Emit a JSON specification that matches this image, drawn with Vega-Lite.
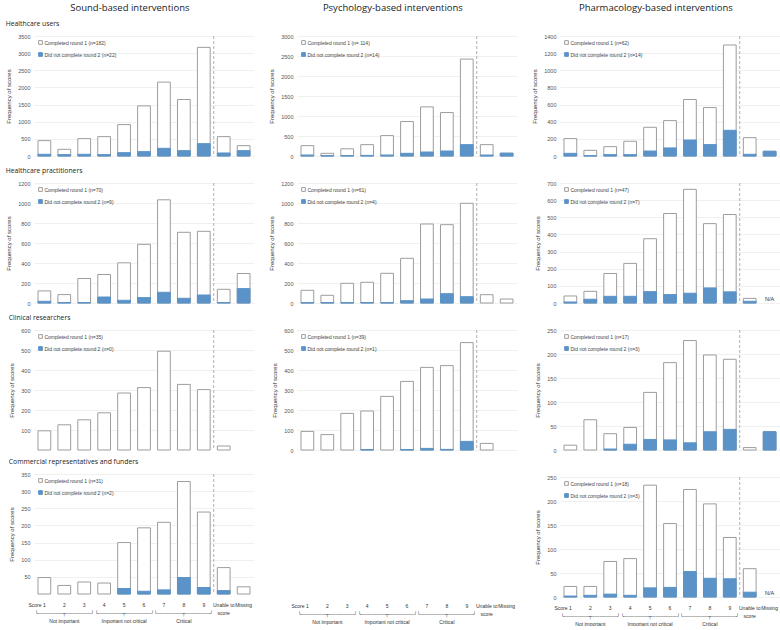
{
"$schema": "https://vega.github.io/schema/vega-lite/v6.json",
"padding": {"left": 5, "top": 2, "right": 0, "bottom": 0},
"background": "white",
"datasets": {"bars": [
{"p":"SHU","s":"1","c":448,"d":50},{"p":"SHU","s":"2","c":195,"d":40},{"p":"SHU","s":"3","c":507,"d":50},{"p":"SHU","s":"4","c":565,"d":40},{"p":"SHU","s":"5","c":916,"d":97},{"p":"SHU","s":"6","c":1462,"d":127},{"p":"SHU","s":"7","c":2155,"d":224},{"p":"SHU","s":"8","c":1648,"d":156},{"p":"SHU","s":"9","c":3168,"d":360},{"p":"SHU","s":"Unable to score","c":565,"d":88},{"p":"SHU","s":"Missing","c":302,"d":156},
{"p":"PSY_HU","s":"1","c":259,"d":25},{"p":"PSY_HU","s":"2","c":67,"d":8},{"p":"PSY_HU","s":"3","c":180,"d":10},{"p":"PSY_HU","s":"4","c":284,"d":15},{"p":"PSY_HU","s":"5","c":510,"d":25},{"p":"PSY_HU","s":"6","c":861,"d":67},{"p":"PSY_HU","s":"7","c":1228,"d":100},{"p":"PSY_HU","s":"8","c":1086,"d":125},{"p":"PSY_HU","s":"9","c":2423,"d":284},{"p":"PSY_HU","s":"Unable to score","c":284,"d":25},{"p":"PSY_HU","s":"Missing","c":70,"d":70},
{"p":"PHA_HU","s":"1","c":203,"d":31},{"p":"PHA_HU","s":"2","c":66,"d":3},{"p":"PHA_HU","s":"3","c":109,"d":16},{"p":"PHA_HU","s":"4","c":172,"d":16},{"p":"PHA_HU","s":"5","c":335,"d":58},{"p":"PHA_HU","s":"6","c":413,"d":94},{"p":"PHA_HU","s":"7","c":659,"d":187},{"p":"PHA_HU","s":"8","c":565,"d":133},{"p":"PHA_HU","s":"9","c":1295,"d":300},{"p":"PHA_HU","s":"Unable to score","c":214,"d":20},{"p":"PHA_HU","s":"Missing","c":55,"d":55},
{"p":"SHP","s":"1","c":121,"d":17},{"p":"SHP","s":"2","c":84,"d":5},{"p":"SHP","s":"3","c":245,"d":5},{"p":"SHP","s":"4","c":285,"d":60},{"p":"SHP","s":"5","c":402,"d":27},{"p":"SHP","s":"6","c":587,"d":54},{"p":"SHP","s":"7","c":1032,"d":107},{"p":"SHP","s":"8","c":707,"d":47},{"p":"SHP","s":"9","c":717,"d":80},{"p":"SHP","s":"Unable to score","c":137,"d":5},{"p":"SHP","s":"Missing","c":295,"d":144},
{"p":"PSY_HP","s":"1","c":127,"d":3},{"p":"PSY_HP","s":"2","c":77,"d":3},{"p":"PSY_HP","s":"3","c":197,"d":3},{"p":"PSY_HP","s":"4","c":207,"d":5},{"p":"PSY_HP","s":"5","c":297,"d":3},{"p":"PSY_HP","s":"6","c":447,"d":23},{"p":"PSY_HP","s":"7","c":790,"d":40},{"p":"PSY_HP","s":"8","c":783,"d":93},{"p":"PSY_HP","s":"9","c":997,"d":63},{"p":"PSY_HP","s":"Unable to score","c":83,"d":null},{"p":"PSY_HP","s":"Missing","c":40,"d":null},
{"p":"PHA_HP","s":"1","c":41,"d":6},{"p":"PHA_HP","s":"2","c":68,"d":22},{"p":"PHA_HP","s":"3","c":172,"d":39},{"p":"PHA_HP","s":"4","c":231,"d":39},{"p":"PHA_HP","s":"5","c":375,"d":66},{"p":"PHA_HP","s":"6","c":522,"d":49},{"p":"PHA_HP","s":"7","c":663,"d":57},{"p":"PHA_HP","s":"8","c":463,"d":88},{"p":"PHA_HP","s":"9","c":516,"d":65},{"p":"PHA_HP","s":"Unable to score","c":27,"d":10},{"p":"PHA_HP","s":"Missing","c":null,"d":null},
{"p":"SCR","s":"1","c":96,"d":null},{"p":"SCR","s":"2","c":126,"d":null},{"p":"SCR","s":"3","c":151,"d":null},{"p":"SCR","s":"4","c":186,"d":null},{"p":"SCR","s":"5","c":285,"d":null},{"p":"SCR","s":"6","c":312,"d":null},{"p":"SCR","s":"7","c":494,"d":null},{"p":"SCR","s":"8","c":328,"d":null},{"p":"SCR","s":"9","c":302,"d":null},{"p":"SCR","s":"Unable to score","c":20,"d":null},{"p":"SCR","s":"Missing","c":null,"d":null},
{"p":"PSY_CR","s":"1","c":93,"d":null},{"p":"PSY_CR","s":"2","c":77,"d":null},{"p":"PSY_CR","s":"3","c":183,"d":null},{"p":"PSY_CR","s":"4","c":195,"d":2},{"p":"PSY_CR","s":"5","c":268,"d":null},{"p":"PSY_CR","s":"6","c":343,"d":2},{"p":"PSY_CR","s":"7","c":413,"d":8},{"p":"PSY_CR","s":"8","c":422,"d":3},{"p":"PSY_CR","s":"9","c":537,"d":43},{"p":"PSY_CR","s":"Unable to score","c":33,"d":null},{"p":"PSY_CR","s":"Missing","c":null,"d":null},
{"p":"PHA_CR","s":"1","c":10,"d":null},{"p":"PHA_CR","s":"2","c":63,"d":null},{"p":"PHA_CR","s":"3","c":34,"d":2},{"p":"PHA_CR","s":"4","c":47,"d":12},{"p":"PHA_CR","s":"5","c":120,"d":22},{"p":"PHA_CR","s":"6","c":182,"d":21},{"p":"PHA_CR","s":"7","c":228,"d":15},{"p":"PHA_CR","s":"8","c":198,"d":38},{"p":"PHA_CR","s":"9","c":189,"d":43},{"p":"PHA_CR","s":"Unable to score","c":5,"d":null},{"p":"PHA_CR","s":"Missing","c":38,"d":38},
{"p":"SCRF","s":"1","c":48,"d":null},{"p":"SCRF","s":"2","c":25,"d":null},{"p":"SCRF","s":"3","c":35,"d":null},{"p":"SCRF","s":"4","c":32,"d":null},{"p":"SCRF","s":"5","c":150,"d":16},{"p":"SCRF","s":"6","c":193,"d":8},{"p":"SCRF","s":"7","c":209,"d":12},{"p":"SCRF","s":"8","c":328,"d":48},{"p":"SCRF","s":"9","c":239,"d":19},{"p":"SCRF","s":"Unable to score","c":77,"d":10},{"p":"SCRF","s":"Missing","c":21,"d":null},
{"p":"PHA_CRF","s":"1","c":22,"d":2},{"p":"PHA_CRF","s":"2","c":22,"d":3.5},{"p":"PHA_CRF","s":"3","c":74,"d":6},{"p":"PHA_CRF","s":"4","c":80,"d":3.5},{"p":"PHA_CRF","s":"5","c":233,"d":19},{"p":"PHA_CRF","s":"6","c":153,"d":20},{"p":"PHA_CRF","s":"7","c":224,"d":53},{"p":"PHA_CRF","s":"8","c":194,"d":39},{"p":"PHA_CRF","s":"9","c":124,"d":38},{"p":"PHA_CRF","s":"Unable to score","c":59,"d":10},{"p":"PHA_CRF","s":"Missing","c":null,"d":null}
]},
"config": {
 "view": {"stroke": null},
 "font": "Liberation Sans",
 "title": {"font": "Open Sans", "fontSize": 6.8, "fontWeight": "normal", "anchor": "start", "frame": "bounds", "offset": 6, "color": "#222"},
 "axis": {"domain": false, "ticks": false, "labelFont": "Liberation Sans", "labelFontSize": 5.5, "labelColor": "#555", "labelPadding": 4, "gridColor": "#ececec", "gridWidth": 0.8, "titleFont": "Liberation Sans", "titleFontSize": 6, "titleFontWeight": "normal", "titleColor": "#333", "titlePadding": 6},
 "axisQuantitative": {"format": "d"},
 "legend": {"orient": "top-left", "offset": 4, "padding": 0, "symbolType": "square", "symbolSize": 14, "symbolStrokeWidth": 1, "labelFontSize": 5, "labelFont": "Liberation Sans", "labelColor": "#444", "rowPadding": 3, "labelOffset": 1.5},
 "bar": {"strokeWidth": 1}
},
"spacing": 14,
"resolve": {"scale": {"color": "independent", "stroke": "independent"}},
"hconcat": [
{
 "title": {"text": "Sound-based interventions", "fontSize": 9.5, "anchor": "middle", "offset": 9},
 "spacing": 8,
 "resolve": {"scale": {"color": "independent", "stroke": "independent"}},
 "vconcat": [
 {"title": "Healthcare users", "width": 220, "height": 120, "layer": [
  {"data": {"name": "bars"}, "transform": [{"filter": "datum.p == 'SHU'"}, {"fold": ["c", "d"], "as": ["t", "v"]}],
   "mark": {"type": "bar"},
   "encoding": {
    "x": {"field": "s", "type": "nominal", "scale": {"domain": ["1","2","3","4","5","6","7","8","9","Unable to score","Missing"], "paddingInner": 0.36, "paddingOuter": 0.2}, "axis": null},
    "y": {"field": "v", "type": "quantitative", "stack": null, "scale": {"domain": [0, 3500], "nice": false}, "axis": {"values": [0,500,1000,1500,2000,2500,3000,3500], "title": "Frequency of scores"}},
    "color": {"field": "t", "type": "nominal", "scale": {"domain": ["c","d"], "range": ["#ffffff","#5b93c8"]}, "legend": {"title": null, "labelExpr": "datum.label == 'c' ? 'Completed round 1 (n=182)' : 'Did not complete round 2 (n=22)'"}},
    "stroke": {"field": "t", "type": "nominal", "scale": {"domain": ["c","d"], "range": ["#9d9d9d","#5b93c8"]}, "legend": {"title": null, "labelExpr": "datum.label == 'c' ? 'Completed round 1 (n=182)' : 'Did not complete round 2 (n=22)'"}}
   }},
  {"data": {"values": [{}]}, "mark": {"type": "rule", "strokeDash": [3, 2], "color": "#b0b0b0", "strokeWidth": 1},
   "encoding": {"x": {"datum": "9", "bandPosition": 1.28, "scale": {"domain": ["1","2","3","4","5","6","7","8","9","Unable to score","Missing"], "paddingInner": 0.36, "paddingOuter": 0.2}, "axis": null}}}
 ]},
 {"title": "Healthcare practitioners", "width": 220, "height": 120, "layer": [
  {"data": {"name": "bars"}, "transform": [{"filter": "datum.p == 'SHP'"}, {"fold": ["c", "d"], "as": ["t", "v"]}],
   "mark": {"type": "bar"},
   "encoding": {
    "x": {"field": "s", "type": "nominal", "scale": {"domain": ["1","2","3","4","5","6","7","8","9","Unable to score","Missing"], "paddingInner": 0.36, "paddingOuter": 0.2}, "axis": null},
    "y": {"field": "v", "type": "quantitative", "stack": null, "scale": {"domain": [0, 1200], "nice": false}, "axis": {"values": [0,200,400,600,800,1000,1200], "title": "Frequency of scores"}},
    "color": {"field": "t", "type": "nominal", "scale": {"domain": ["c","d"], "range": ["#ffffff","#5b93c8"]}, "legend": {"title": null, "labelExpr": "datum.label == 'c' ? 'Completed round 1 (n=70)' : 'Did not complete round 2 (n=9)'"}},
    "stroke": {"field": "t", "type": "nominal", "scale": {"domain": ["c","d"], "range": ["#9d9d9d","#5b93c8"]}, "legend": {"title": null, "labelExpr": "datum.label == 'c' ? 'Completed round 1 (n=70)' : 'Did not complete round 2 (n=9)'"}}
   }},
  {"data": {"values": [{}]}, "mark": {"type": "rule", "strokeDash": [3, 2], "color": "#b0b0b0", "strokeWidth": 1},
   "encoding": {"x": {"datum": "9", "bandPosition": 1.28, "scale": {"domain": ["1","2","3","4","5","6","7","8","9","Unable to score","Missing"], "paddingInner": 0.36, "paddingOuter": 0.2}, "axis": null}}}
 ]},
 {"title": "Clinical researchers", "width": 220, "height": 120, "layer": [
  {"data": {"name": "bars"}, "transform": [{"filter": "datum.p == 'SCR'"}, {"fold": ["c", "d"], "as": ["t", "v"]}],
   "mark": {"type": "bar"},
   "encoding": {
    "x": {"field": "s", "type": "nominal", "scale": {"domain": ["1","2","3","4","5","6","7","8","9","Unable to score","Missing"], "paddingInner": 0.36, "paddingOuter": 0.2}, "axis": null},
    "y": {"field": "v", "type": "quantitative", "stack": null, "scale": {"domain": [0, 600], "nice": false}, "axis": {"values": [100,200,300,400,500,600], "title": "Frequency of scores"}},
    "color": {"field": "t", "type": "nominal", "scale": {"domain": ["c","d"], "range": ["#ffffff","#5b93c8"]}, "legend": {"title": null, "labelExpr": "datum.label == 'c' ? 'Completed round 1 (n=35)' : 'Did not complete round 2 (n=0)'"}},
    "stroke": {"field": "t", "type": "nominal", "scale": {"domain": ["c","d"], "range": ["#9d9d9d","#5b93c8"]}, "legend": {"title": null, "labelExpr": "datum.label == 'c' ? 'Completed round 1 (n=35)' : 'Did not complete round 2 (n=0)'"}}
   }},
  {"data": {"values": [{}]}, "mark": {"type": "rule", "strokeDash": [3, 2], "color": "#b0b0b0", "strokeWidth": 1},
   "encoding": {"x": {"datum": "9", "bandPosition": 1.28, "scale": {"domain": ["1","2","3","4","5","6","7","8","9","Unable to score","Missing"], "paddingInner": 0.36, "paddingOuter": 0.2}, "axis": null}}}
 ]},
 {"title": "Commercial representatives and funders", "width": 220, "height": 120, "layer": [
  {"data": {"name": "bars"}, "transform": [{"filter": "datum.p == 'SCRF'"}, {"fold": ["c", "d"], "as": ["t", "v"]}],
   "mark": {"type": "bar"},
   "encoding": {
    "x": {"field": "s", "type": "nominal", "scale": {"domain": ["1","2","3","4","5","6","7","8","9","Unable to score","Missing"], "paddingInner": 0.36, "paddingOuter": 0.2},
      "axis": {"title": "Score", "titleX": 7, "titleY": 8, "titleAlign": "right", "titleBaseline": "top", "titleFont": "Liberation Sans", "titleFontSize": 5, "titlePadding": 0, "labelAngle": 0, "labelFont": "Liberation Sans", "labelFontSize": 5, "labelColor": "#333", "labelLineHeight": 8, "labelPadding": 8, "labelOverlap": false, "labelBound": false, "grid": false,
        "labelExpr": "datum.value == '2' ? ['2', '╰───────┬───────╯', 'Not important'] : datum.value == '5' ? ['5', '╰───────┬───────╯', 'Important not critical'] : datum.value == '8' ? ['8', '╰───────┬───────╯', 'Critical'] : datum.value == 'Unable to score' ? ['Unable to', 'score'] : datum.label"}},
    "y": {"field": "v", "type": "quantitative", "stack": null, "scale": {"domain": [0, 350], "nice": false}, "axis": {"values": [50,100,150,200,250,300,350], "title": "Frequency of scores"}},
    "color": {"field": "t", "type": "nominal", "scale": {"domain": ["c","d"], "range": ["#ffffff","#5b93c8"]}, "legend": {"title": null, "labelExpr": "datum.label == 'c' ? 'Completed round 1 (n=31)' : 'Did not complete round 2 (n=2)'"}},
    "stroke": {"field": "t", "type": "nominal", "scale": {"domain": ["c","d"], "range": ["#9d9d9d","#5b93c8"]}, "legend": {"title": null, "labelExpr": "datum.label == 'c' ? 'Completed round 1 (n=31)' : 'Did not complete round 2 (n=2)'"}}
   }},
  {"data": {"values": [{}]}, "mark": {"type": "rule", "strokeDash": [3, 2], "color": "#b0b0b0", "strokeWidth": 1},
   "encoding": {"x": {"datum": "9", "bandPosition": 1.28, "scale": {"domain": ["1","2","3","4","5","6","7","8","9","Unable to score","Missing"], "paddingInner": 0.36, "paddingOuter": 0.2},
      "axis": {"title": "Score", "titleX": 7, "titleY": 8, "titleAlign": "right", "titleBaseline": "top", "titleFont": "Liberation Sans", "titleFontSize": 5, "titlePadding": 0, "labelAngle": 0, "labelFont": "Liberation Sans", "labelFontSize": 5, "labelColor": "#333", "labelLineHeight": 8, "labelPadding": 8, "labelOverlap": false, "labelBound": false, "grid": false,
        "labelExpr": "datum.value == '2' ? ['2', '╰───────┬───────╯', 'Not important'] : datum.value == '5' ? ['5', '╰───────┬───────╯', 'Important not critical'] : datum.value == '8' ? ['8', '╰───────┬───────╯', 'Critical'] : datum.value == 'Unable to score' ? ['Unable to', 'score'] : datum.label"}}}}
 ]}
 ]
},
{
 "title": {"text": "Psychology-based interventions", "fontSize": 9.5, "anchor": "middle", "offset": 9},
 "spacing": 8,
 "resolve": {"scale": {"color": "independent", "stroke": "independent"}},
 "vconcat": [
 {"title": " ", "width": 220, "height": 120, "layer": [
  {"data": {"name": "bars"}, "transform": [{"filter": "datum.p == 'PSY_HU'"}, {"fold": ["c", "d"], "as": ["t", "v"]}],
   "mark": {"type": "bar"},
   "encoding": {
    "x": {"field": "s", "type": "nominal", "scale": {"domain": ["1","2","3","4","5","6","7","8","9","Unable to score","Missing"], "paddingInner": 0.36, "paddingOuter": 0.2}, "axis": null},
    "y": {"field": "v", "type": "quantitative", "stack": null, "scale": {"domain": [0, 3000], "nice": false}, "axis": {"values": [0,500,1000,1500,2000,2500,3000], "title": "Frequency of scores"}},
    "color": {"field": "t", "type": "nominal", "scale": {"domain": ["c","d"], "range": ["#ffffff","#5b93c8"]}, "legend": {"title": null, "labelExpr": "datum.label == 'c' ? 'Completed round 1 (n= 114)' : 'Did not complete round 2 (n=14)'"}},
    "stroke": {"field": "t", "type": "nominal", "scale": {"domain": ["c","d"], "range": ["#9d9d9d","#5b93c8"]}, "legend": {"title": null, "labelExpr": "datum.label == 'c' ? 'Completed round 1 (n= 114)' : 'Did not complete round 2 (n=14)'"}}
   }},
  {"data": {"values": [{}]}, "mark": {"type": "rule", "strokeDash": [3, 2], "color": "#b0b0b0", "strokeWidth": 1},
   "encoding": {"x": {"datum": "9", "bandPosition": 1.28, "scale": {"domain": ["1","2","3","4","5","6","7","8","9","Unable to score","Missing"], "paddingInner": 0.36, "paddingOuter": 0.2}, "axis": null}}}
 ]},
 {"title": " ", "width": 220, "height": 120, "layer": [
  {"data": {"name": "bars"}, "transform": [{"filter": "datum.p == 'PSY_HP'"}, {"fold": ["c", "d"], "as": ["t", "v"]}],
   "mark": {"type": "bar"},
   "encoding": {
    "x": {"field": "s", "type": "nominal", "scale": {"domain": ["1","2","3","4","5","6","7","8","9","Unable to score","Missing"], "paddingInner": 0.36, "paddingOuter": 0.2}, "axis": null},
    "y": {"field": "v", "type": "quantitative", "stack": null, "scale": {"domain": [0, 1200], "nice": false}, "axis": {"values": [0,200,400,600,800,1000,1200], "title": "Frequency of scores"}},
    "color": {"field": "t", "type": "nominal", "scale": {"domain": ["c","d"], "range": ["#ffffff","#5b93c8"]}, "legend": {"title": null, "labelExpr": "datum.label == 'c' ? 'Completed round 1 (n=61)' : 'Did not complete round 2 (n=4)'"}},
    "stroke": {"field": "t", "type": "nominal", "scale": {"domain": ["c","d"], "range": ["#9d9d9d","#5b93c8"]}, "legend": {"title": null, "labelExpr": "datum.label == 'c' ? 'Completed round 1 (n=61)' : 'Did not complete round 2 (n=4)'"}}
   }},
  {"data": {"values": [{}]}, "mark": {"type": "rule", "strokeDash": [3, 2], "color": "#b0b0b0", "strokeWidth": 1},
   "encoding": {"x": {"datum": "9", "bandPosition": 1.28, "scale": {"domain": ["1","2","3","4","5","6","7","8","9","Unable to score","Missing"], "paddingInner": 0.36, "paddingOuter": 0.2}, "axis": null}}}
 ]},
 {"title": " ", "width": 220, "height": 120, "layer": [
  {"data": {"name": "bars"}, "transform": [{"filter": "datum.p == 'PSY_CR'"}, {"fold": ["c", "d"], "as": ["t", "v"]}],
   "mark": {"type": "bar"},
   "encoding": {
    "x": {"field": "s", "type": "nominal", "scale": {"domain": ["1","2","3","4","5","6","7","8","9","Unable to score","Missing"], "paddingInner": 0.36, "paddingOuter": 0.2}, "axis": null},
    "y": {"field": "v", "type": "quantitative", "stack": null, "scale": {"domain": [0, 600], "nice": false}, "axis": {"values": [0,100,200,300,400,500,600], "title": "Frequency of scores"}},
    "color": {"field": "t", "type": "nominal", "scale": {"domain": ["c","d"], "range": ["#ffffff","#5b93c8"]}, "legend": {"title": null, "labelExpr": "datum.label == 'c' ? 'Completed round 1 (n=39)' : 'Did not complete round 2 (n=1)'"}},
    "stroke": {"field": "t", "type": "nominal", "scale": {"domain": ["c","d"], "range": ["#9d9d9d","#5b93c8"]}, "legend": {"title": null, "labelExpr": "datum.label == 'c' ? 'Completed round 1 (n=39)' : 'Did not complete round 2 (n=1)'"}}
   }},
  {"data": {"values": [{}]}, "mark": {"type": "rule", "strokeDash": [3, 2], "color": "#b0b0b0", "strokeWidth": 1},
   "encoding": {"x": {"datum": "9", "bandPosition": 1.28, "scale": {"domain": ["1","2","3","4","5","6","7","8","9","Unable to score","Missing"], "paddingInner": 0.36, "paddingOuter": 0.2}, "axis": null}}}
 ]},
 {"title": " ", "width": 220, "height": 120,
  "data": {"name": "bars"}, "transform": [{"filter": "datum.p == 'PSY_CRF'"}],
  "mark": {"type": "bar"},
  "encoding": {
    "x": {"field": "s", "type": "nominal", "scale": {"domain": ["1","2","3","4","5","6","7","8","9","Unable to score","Missing"], "paddingInner": 0.36, "paddingOuter": 0.2},
      "axis": {"title": "Score", "titleX": 7, "titleY": 8, "titleAlign": "right", "titleBaseline": "top", "titleFont": "Liberation Sans", "titleFontSize": 5, "titlePadding": 0, "labelAngle": 0, "labelFont": "Liberation Sans", "labelFontSize": 5, "labelColor": "#333", "labelLineHeight": 8, "labelPadding": 8, "labelOverlap": false, "labelBound": false, "grid": false,
        "labelExpr": "datum.value == '2' ? ['2', '╰───────┬───────╯', 'Not important'] : datum.value == '5' ? ['5', '╰───────┬───────╯', 'Important not critical'] : datum.value == '8' ? ['8', '╰───────┬───────╯', 'Critical'] : datum.value == 'Unable to score' ? ['Unable to', 'score'] : datum.label"}},
    "y": {"field": "c", "type": "quantitative", "scale": {"domain": [0, 100]}, "axis": null}
  }}
 ]
},
{
 "title": {"text": "Pharmacology-based interventions", "fontSize": 9.5, "anchor": "middle", "offset": 9},
 "spacing": 8,
 "resolve": {"scale": {"color": "independent", "stroke": "independent"}},
 "vconcat": [
 {"title": " ", "width": 220, "height": 120, "layer": [
  {"data": {"name": "bars"}, "transform": [{"filter": "datum.p == 'PHA_HU'"}, {"fold": ["c", "d"], "as": ["t", "v"]}],
   "mark": {"type": "bar"},
   "encoding": {
    "x": {"field": "s", "type": "nominal", "scale": {"domain": ["1","2","3","4","5","6","7","8","9","Unable to score","Missing"], "paddingInner": 0.36, "paddingOuter": 0.2}, "axis": null},
    "y": {"field": "v", "type": "quantitative", "stack": null, "scale": {"domain": [0, 1400], "nice": false}, "axis": {"values": [0,200,400,600,800,1000,1200,1400], "title": "Frequency of scores"}},
    "color": {"field": "t", "type": "nominal", "scale": {"domain": ["c","d"], "range": ["#ffffff","#5b93c8"]}, "legend": {"title": null, "labelExpr": "datum.label == 'c' ? 'Completed round 1 (n=62)' : 'Did not complete round 2 (n=14)'"}},
    "stroke": {"field": "t", "type": "nominal", "scale": {"domain": ["c","d"], "range": ["#9d9d9d","#5b93c8"]}, "legend": {"title": null, "labelExpr": "datum.label == 'c' ? 'Completed round 1 (n=62)' : 'Did not complete round 2 (n=14)'"}}
   }},
  {"data": {"values": [{}]}, "mark": {"type": "rule", "strokeDash": [3, 2], "color": "#b0b0b0", "strokeWidth": 1},
   "encoding": {"x": {"datum": "9", "bandPosition": 1.28, "scale": {"domain": ["1","2","3","4","5","6","7","8","9","Unable to score","Missing"], "paddingInner": 0.36, "paddingOuter": 0.2}, "axis": null}}}
 ]},
 {"title": " ", "width": 220, "height": 120, "layer": [
  {"data": {"name": "bars"}, "transform": [{"filter": "datum.p == 'PHA_HP'"}, {"fold": ["c", "d"], "as": ["t", "v"]}],
   "mark": {"type": "bar"},
   "encoding": {
    "x": {"field": "s", "type": "nominal", "scale": {"domain": ["1","2","3","4","5","6","7","8","9","Unable to score","Missing"], "paddingInner": 0.36, "paddingOuter": 0.2}, "axis": null},
    "y": {"field": "v", "type": "quantitative", "stack": null, "scale": {"domain": [0, 700], "nice": false}, "axis": {"values": [0,100,200,300,400,500,600,700], "title": "Frequency of scores"}},
    "color": {"field": "t", "type": "nominal", "scale": {"domain": ["c","d"], "range": ["#ffffff","#5b93c8"]}, "legend": {"title": null, "labelExpr": "datum.label == 'c' ? 'Completed round 1 (n=47)' : 'Did not complete round 2 (n=7)'"}},
    "stroke": {"field": "t", "type": "nominal", "scale": {"domain": ["c","d"], "range": ["#9d9d9d","#5b93c8"]}, "legend": {"title": null, "labelExpr": "datum.label == 'c' ? 'Completed round 1 (n=47)' : 'Did not complete round 2 (n=7)'"}}
   }},
  {"data": {"values": [{}]}, "mark": {"type": "rule", "strokeDash": [3, 2], "color": "#b0b0b0", "strokeWidth": 1},
   "encoding": {"x": {"datum": "9", "bandPosition": 1.28, "scale": {"domain": ["1","2","3","4","5","6","7","8","9","Unable to score","Missing"], "paddingInner": 0.36, "paddingOuter": 0.2}, "axis": null}}},
  {"data": {"values": [{"s": "Missing", "note": "N/A"}]}, "mark": {"type": "text", "fontSize": 5.5, "dy": -4, "color": "#333"},
   "encoding": {"x": {"field": "s", "type": "nominal", "scale": {"domain": ["1","2","3","4","5","6","7","8","9","Unable to score","Missing"], "paddingInner": 0.36, "paddingOuter": 0.2}, "axis": null},
    "y": {"datum": 0, "type": "quantitative", "scale": {"domain": [0, 700], "nice": false}, "axis": {"values": [0,100,200,300,400,500,600,700], "title": "Frequency of scores"}},
    "text": {"field": "note"}}}
 ]},
 {"title": " ", "width": 220, "height": 120, "layer": [
  {"data": {"name": "bars"}, "transform": [{"filter": "datum.p == 'PHA_CR'"}, {"fold": ["c", "d"], "as": ["t", "v"]}],
   "mark": {"type": "bar"},
   "encoding": {
    "x": {"field": "s", "type": "nominal", "scale": {"domain": ["1","2","3","4","5","6","7","8","9","Unable to score","Missing"], "paddingInner": 0.36, "paddingOuter": 0.2}, "axis": null},
    "y": {"field": "v", "type": "quantitative", "stack": null, "scale": {"domain": [0, 250], "nice": false}, "axis": {"values": [0,50,100,150,200,250], "title": "Frequency of scores"}},
    "color": {"field": "t", "type": "nominal", "scale": {"domain": ["c","d"], "range": ["#ffffff","#5b93c8"]}, "legend": {"title": null, "labelExpr": "datum.label == 'c' ? 'Completed round 1 (n=17)' : 'Did not complete round 2 (n=3)'"}},
    "stroke": {"field": "t", "type": "nominal", "scale": {"domain": ["c","d"], "range": ["#9d9d9d","#5b93c8"]}, "legend": {"title": null, "labelExpr": "datum.label == 'c' ? 'Completed round 1 (n=17)' : 'Did not complete round 2 (n=3)'"}}
   }},
  {"data": {"values": [{}]}, "mark": {"type": "rule", "strokeDash": [3, 2], "color": "#b0b0b0", "strokeWidth": 1},
   "encoding": {"x": {"datum": "9", "bandPosition": 1.28, "scale": {"domain": ["1","2","3","4","5","6","7","8","9","Unable to score","Missing"], "paddingInner": 0.36, "paddingOuter": 0.2}, "axis": null}}}
 ]},
 {"title": " ", "width": 220, "height": 120, "layer": [
  {"data": {"name": "bars"}, "transform": [{"filter": "datum.p == 'PHA_CRF'"}, {"fold": ["c", "d"], "as": ["t", "v"]}],
   "mark": {"type": "bar"},
   "encoding": {
    "x": {"field": "s", "type": "nominal", "scale": {"domain": ["1","2","3","4","5","6","7","8","9","Unable to score","Missing"], "paddingInner": 0.36, "paddingOuter": 0.2},
      "axis": {"title": "Score", "titleX": 7, "titleY": 8, "titleAlign": "right", "titleBaseline": "top", "titleFont": "Liberation Sans", "titleFontSize": 5, "titlePadding": 0, "labelAngle": 0, "labelFont": "Liberation Sans", "labelFontSize": 5, "labelColor": "#333", "labelLineHeight": 8, "labelPadding": 8, "labelOverlap": false, "labelBound": false, "grid": false,
        "labelExpr": "datum.value == '2' ? ['2', '╰───────┬───────╯', 'Not important'] : datum.value == '5' ? ['5', '╰───────┬───────╯', 'Important not critical'] : datum.value == '8' ? ['8', '╰───────┬───────╯', 'Critical'] : datum.value == 'Unable to score' ? ['Unable to', 'score'] : datum.label"}},
    "y": {"field": "v", "type": "quantitative", "stack": null, "scale": {"domain": [0, 250], "nice": false}, "axis": {"values": [0,50,100,150,200,250], "title": "Frequency of scores"}},
    "color": {"field": "t", "type": "nominal", "scale": {"domain": ["c","d"], "range": ["#ffffff","#5b93c8"]}, "legend": {"title": null, "labelExpr": "datum.label == 'c' ? 'Completed round 1 (n=18)' : 'Did not complete round 2 (n=3)'"}},
    "stroke": {"field": "t", "type": "nominal", "scale": {"domain": ["c","d"], "range": ["#9d9d9d","#5b93c8"]}, "legend": {"title": null, "labelExpr": "datum.label == 'c' ? 'Completed round 1 (n=18)' : 'Did not complete round 2 (n=3)'"}}
   }},
  {"data": {"values": [{}]}, "mark": {"type": "rule", "strokeDash": [3, 2], "color": "#b0b0b0", "strokeWidth": 1},
   "encoding": {"x": {"datum": "9", "bandPosition": 1.28, "scale": {"domain": ["1","2","3","4","5","6","7","8","9","Unable to score","Missing"], "paddingInner": 0.36, "paddingOuter": 0.2},
      "axis": {"title": "Score", "titleX": 7, "titleY": 8, "titleAlign": "right", "titleBaseline": "top", "titleFont": "Liberation Sans", "titleFontSize": 5, "titlePadding": 0, "labelAngle": 0, "labelFont": "Liberation Sans", "labelFontSize": 5, "labelColor": "#333", "labelLineHeight": 8, "labelPadding": 8, "labelOverlap": false, "labelBound": false, "grid": false,
        "labelExpr": "datum.value == '2' ? ['2', '╰───────┬───────╯', 'Not important'] : datum.value == '5' ? ['5', '╰───────┬───────╯', 'Important not critical'] : datum.value == '8' ? ['8', '╰───────┬───────╯', 'Critical'] : datum.value == 'Unable to score' ? ['Unable to', 'score'] : datum.label"}}}},
  {"data": {"values": [{"s": "Missing", "note": "N/A"}]}, "mark": {"type": "text", "fontSize": 5.5, "dy": -4, "color": "#333"},
   "encoding": {"x": {"field": "s", "type": "nominal", "scale": {"domain": ["1","2","3","4","5","6","7","8","9","Unable to score","Missing"], "paddingInner": 0.36, "paddingOuter": 0.2},
      "axis": {"title": "Score", "titleX": 7, "titleY": 8, "titleAlign": "right", "titleBaseline": "top", "titleFont": "Liberation Sans", "titleFontSize": 5, "titlePadding": 0, "labelAngle": 0, "labelFont": "Liberation Sans", "labelFontSize": 5, "labelColor": "#333", "labelLineHeight": 8, "labelPadding": 8, "labelOverlap": false, "labelBound": false, "grid": false,
        "labelExpr": "datum.value == '2' ? ['2', '╰───────┬───────╯', 'Not important'] : datum.value == '5' ? ['5', '╰───────┬───────╯', 'Important not critical'] : datum.value == '8' ? ['8', '╰───────┬───────╯', 'Critical'] : datum.value == 'Unable to score' ? ['Unable to', 'score'] : datum.label"}},
    "y": {"datum": 0, "type": "quantitative", "scale": {"domain": [0, 250], "nice": false}, "axis": {"values": [0,50,100,150,200,250], "title": "Frequency of scores"}},
    "text": {"field": "note"}}}
 ]}
 ]
}
]
}
